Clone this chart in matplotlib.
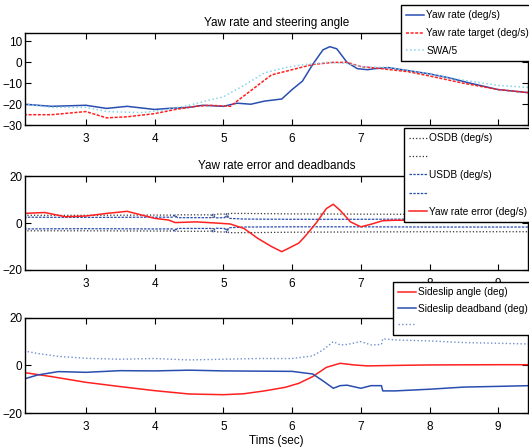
import matplotlib
matplotlib.use("Agg")
import matplotlib.pyplot as plt

plt.rcParams['font.family'] = ['Liberation Sans Narrow', 'Liberation Sans', 'DejaVu Sans']
plt.rcParams['font.size'] = 8.5

# --- panel 1: yaw rate and steering angle ---
t_yaw = [2.1, 2.5, 3.0, 3.3, 3.6, 4.0, 4.2, 4.5, 4.7, 5.0, 5.2, 5.4, 5.6, 5.85, 6.0, 6.15,
         6.3, 6.45, 6.55, 6.65, 6.8, 6.95, 7.1, 7.2, 7.4, 7.7, 8.0, 8.3, 8.6, 9.0, 9.45]
yaw = [-20, -21, -20.5, -22, -21, -22.5, -22, -21.5, -20.5, -21, -19.5, -20, -18.5, -17.5, -13, -9,
       -1, 6, 7.5, 6.5, 0, -3, -3.5, -3, -2.5, -4, -5.5, -7.5, -10, -13, -14.5]

t_target = [2.1, 2.5, 3.0, 3.3, 3.6, 4.0, 4.3, 4.6, 4.8, 5.1, 5.3, 5.5, 5.7, 6.0, 6.3, 6.6,
            6.8, 7.0, 7.3, 7.7, 8.0, 8.5, 9.0, 9.45]
target = [-25, -25, -23.5, -26.5, -26, -24.5, -22.5, -21, -20.5, -21, -16, -11, -6, -3.5, -1, 0,
          0, -2, -3, -4.5, -6.5, -10, -13, -14.5]

t_swa = [2.1, 2.5, 3.0, 3.3, 3.8, 4.1, 4.5, 4.8, 5.0, 5.3, 5.6, 5.9, 6.2, 6.5, 6.8, 7.0,
         7.4, 7.7, 8.0, 8.5, 9.0, 9.45]
swa5 = [-20, -21.5, -21.5, -23.5, -24, -23, -20.5, -18, -16.5, -11, -5, -2.5, -1, 0, -0.5, -2,
        -2.5, -4, -5.5, -8.5, -11, -12]

# --- panel 2: yaw rate error and deadbands ---
t_err = [2.1, 2.4, 2.7, 3.0, 3.3, 3.6, 3.8, 4.0, 4.2, 4.3, 4.6, 4.9, 5.1, 5.3, 5.5, 5.7, 5.85,
         6.0, 6.1, 6.2, 6.35, 6.5, 6.6, 6.7, 6.85, 7.0, 7.15, 7.32, 7.5, 8.0, 8.5, 9.0, 9.45]
yaw_err = [4.1, 4.5, 2.7, 3.0, 4.1, 5.0, 3.5, 2.0, 1.3, 0.2, 0.5, 0.0, -0.4, -2.3, -6.5, -10, -12.2,
           -10, -8.5, -5.3, 0.0, 6.2, 8.0, 5.4, 0.5, -1.6, -0.5, 1.0, 1.2, 1.2, 1.5, 1.0, 0.3]

t_db = [2.1, 3.0, 4.0, 4.27, 4.3, 4.33, 4.6, 4.82, 4.85, 4.88, 5.02, 5.05, 5.08, 5.3, 6.0, 7.0, 8.0, 9.0, 9.45]
osdb = [3.3, 3.3, 3.4, 3.4, 2.4, 3.5, 3.5, 3.5, 2.3, 3.8, 3.8, 2.0, 4.1, 4.1, 3.9, 3.8, 3.7, 3.7, 3.7]
usdb = [2.5, 2.4, 2.5, 2.5, 3.5, 2.3, 2.3, 2.3, 3.8, 2.2, 2.3, 4.0, 2.0, 1.7, 1.6, 1.6, 1.7, 1.7, 1.7]

# --- panel 3: sideslip ---
t_beta = [2.1, 2.5, 3.0, 3.5, 4.0, 4.5, 5.0, 5.3, 5.6, 5.9, 6.1, 6.3, 6.5, 6.7, 6.9, 7.1, 7.5, 8.0, 9.0, 9.45]
beta = [-3, -4.7, -7.1, -8.9, -10.6, -12, -12.3, -11.9, -10.7, -9.2, -7.5, -4.7, -0.8, 0.9, 0.2, -0.2, 0, 0.2, 0.3, 0.3]

t_sdb = [2.1, 2.3, 2.6, 3.0, 3.5, 4.0, 4.5, 5.0, 5.5, 6.0, 6.3, 6.45, 6.6, 6.7, 6.8, 7.0, 7.15,
         7.3, 7.32, 7.5, 8.0, 8.5, 9.0, 9.45]
sdb_low = [-5.7, -4, -2.6, -2.9, -2.2, -2.3, -2.0, -2.3, -2.4, -2.5, -3.6, -6.5, -9.6, -8.5, -8.3, -9.6, -8.5,
           -8.5, -10.7, -10.7, -10, -9.1, -8.8, -8.5]
sdb_high = [6.1, 5.0, 3.8, 3.0, 2.6, 2.9, 2.3, 2.6, 2.9, 2.9, 4.0, 6.5, 10, 8.6, 8.8, 10, 8.6,
            8.8, 11.2, 10.7, 10.3, 9.6, 9.3, 9.0]

xticks = [3, 4, 5, 6, 7, 8, 9]
xlim = (2.112, 9.44)

blue = '#2a4db0'
red = '#ff2020'
cyan = '#86d2ea'
lightblue = '#6f8fd0'

fig = plt.figure(figsize=(5.29, 4.47), dpi=100)
ax1 = fig.add_axes([0.047, 0.720, 0.952, 0.206])
ax2 = fig.add_axes([0.047, 0.396, 0.952, 0.210])
ax3 = fig.add_axes([0.047, 0.076, 0.952, 0.213])

for ax in (ax1, ax2, ax3):
    ax.set_xlim(*xlim)
    ax.set_xticks(xticks)
    ax.tick_params(direction='in', top=True, right=True, length=4, width=0.8, labelsize=8.5)
    ax.tick_params(axis='x', pad=6)
    ax.tick_params(axis='y', pad=2)
    for s in ax.spines.values():
        s.set_linewidth(1.0)

legkw = dict(loc='upper left', frameon=True, fancybox=False, edgecolor='black', framealpha=1,
             borderaxespad=0, handlelength=1.7, handletextpad=0.25, borderpad=0.53, fontsize=7.3)

l1, = ax1.plot(t_yaw, yaw, color=blue, lw=1.1)
l2, = ax1.plot(t_target, target, color=red, lw=1.1, ls='--', dashes=(2, 1))
l3, = ax1.plot(t_swa, swa5, color=cyan, lw=1.1, ls=':')
ax1.set_ylim(-30, 14)
ax1.set_yticks([-30, -20, -10, 0, 10])
ax1.set_title('Yaw rate and steering angle', fontsize=8.5, pad=5)
fig.legend([l1, l2, l3], ['Yaw rate (deg/s)', 'Yaw rate target (deg/s)', 'SWA/5'],
           bbox_to_anchor=(401 / 529, 1 - 5 / 447), labelspacing=0.77, **legkw)

m1, = ax2.plot(t_db, osdb, color='#333333', lw=0.9, ls=':')
m2, = ax2.plot(t_db, [-v for v in osdb], color='#333333', lw=0.9, ls=':')
m3, = ax2.plot(t_db, usdb, color=blue, lw=0.9, ls='--', dashes=(2, 1))
m4, = ax2.plot(t_db, [-v for v in usdb], color=blue, lw=0.9, ls='--', dashes=(2, 1))
m5, = ax2.plot(t_err, yaw_err, color=red, lw=1.1)
ax2.set_ylim(-20, 20)
ax2.set_yticks([-20, 0, 20])
ax2.set_title('Yaw rate error and deadbands', fontsize=8.5, pad=5)
fig.legend([m1, m2, m3, m4, m5], ['OSDB (deg/s)', '', 'USDB (deg/s)', '', 'Yaw rate error (deg/s)'],
           bbox_to_anchor=(404 / 529, 1 - 128 / 447), labelspacing=0.82, **legkw)

n1, = ax3.plot(t_beta, beta, color=red, lw=1.1)
n2, = ax3.plot(t_sdb, sdb_low, color=blue, lw=1.1)
n3, = ax3.plot(t_sdb, sdb_high, color=lightblue, lw=1.0, ls=':')
ax3.set_ylim(-20, 20)
ax3.set_yticks([-20, 0, 20])
ax3.set_xlabel('Tims (sec)', fontsize=8.5, labelpad=1)
fig.legend([n1, n2, n3], ['Sideslip angle (deg)', 'Sideslip deadband (deg)', ''],
           bbox_to_anchor=(393 / 529, 1 - 282 / 447), labelspacing=0.62, **legkw)

fig.savefig('out.png', dpi=100)
